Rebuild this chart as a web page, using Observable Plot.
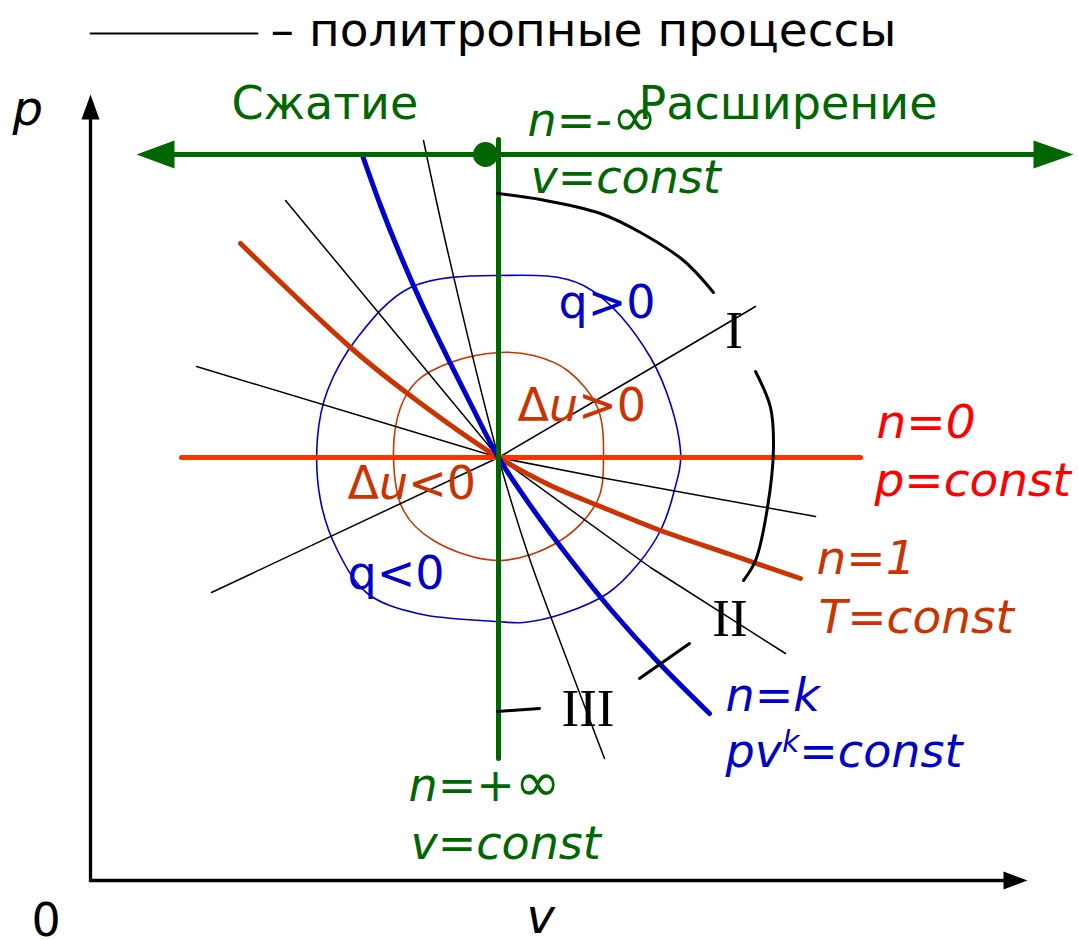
<!DOCTYPE html>
<html><head><meta charset="utf-8">
<script src="https://cdn.jsdelivr.net/npm/d3@7"></script>
<script src="https://cdn.jsdelivr.net/npm/@observablehq/plot@0.6"></script>
<style>html,body{margin:0;padding:0;background:#fff;} #chart svg{display:block;}</style>
</head><body><div id="chart"></div>
<script>
// Diagram units: v (volume) and p (pressure), origin at the axes corner "0".
const statePoint = [[408, 423]];
const isochore = [[408, 741], [408, 122]];                 // n = ±∞
const isobar = [[91, 423], [770, 423]];                    // n = 0
const isotherm = [[150,637],[260,533],[317,487],[408,423],[460,395],[510,374],[570,350],[640,326],[710,302]]; // n = 1
const adiabat = [[272,725],[290,675],[310,625],[332,575],[356,525],[381,475],[408,423],[442,372],[480,321],[522,269],[568,218],[619,167]];  // n = k
const polytropeA = [[121,288],[408,423],[560,512],[665,574]];
const polytropeB = [[106,514],[408,423],[510,403],[725,364]];
const polytropeC = [[195,680],[408,423],[560,313],[695,227]];
const polytropeD = [[333,740],[357,630],[408,423],[438,325],[473,230],[514,122]];
const heatLoop = [[407,605],[493,595],[560,523],[590,430],[583,387],[570,350],[548,317],[517,287],[473,267],[433,258],[407,259],[327,267],[277,287],[247,330],[230,380],[227,443],[237,490],[267,543],[320,593]];
const energyLoop = [[408,528],[443,525],[477,510],[507,473],[513,423],[507,380],[470,340],[408,320],[343,340],[313,370],[303,423],[310,473],[327,500],[360,518]];
const arcI = [[407,687],[450,681],[510,667],[550,648],[593,620],[623,588]];
const arcII = [[665,509],[680,473],[683,433],[677,373],[665,320],[653,300]];
const arcIII = [[549,202],[599,237]];
const tickIII = [[407,169],[449,172]];
const directionLine = [[84,726],[943,726]];
const arrowLeft = [[46,726],[84,740],[84,712]];
const arrowRight = [[983,726],[943,740],[943,712]];
const startDot = [[395,726]];
const pAxis = [[0,0],[0,761]];
const pArrow = [[0,786],[-9,761],[9,761]];
const vAxis = [[0,0],[913,0]];
const vArrow = [[937,0],[913,9],[913,-9]];
const legendLine = [[0,847],[167,847]];

const legendLabel = [{text:"– политропные процессы", v:180, p:835}];
const axisLabels = [{text:"p", v:-78, p:756}, {text:"v", v:436, p:-52}];
const originLabel = [{text:"0", v:-59, p:-55}];
const directionLabels = [{text:"Сжатие", v:141, p:762}, {text:"Расширение", v:548, p:762}];
const isochoreLabels = [{text:"n=-∞", v:437, p:745}, {text:"v=const", v:440, p:688}, {text:"n=+∞", v:318, p:80}, {text:"v=const", v:320, p:22}];
const isobarLabels = [{text:"n=0", v:786, p:443}, {text:"p=const", v:784, p:385}];
const isothermLabels = [{text:"n=1", v:726, p:307}, {text:"T=const", v:728, p:248}];
const adiabatLabels = [{text:"n=k", v:635, p:170}, {text:"pv^k=const", v:635, p:114}];
const heatLabels = [{text:"q>0", v:468, p:563}, {text:"q<0", v:257, p:292}];
const energyLabels = [{text:"Δu>0", v:427, p:460}, {text:"Δu<0", v:257, p:382}];
const romanLabels = [{text:"I", v:643.5, p:533}, {text:"II", v:639.5, p:245}, {text:"III", v:497.5, p:155}];

const GREEN = "#006600", BLUE = "#0000cc", BROWN = "#cc3300", RED = "#ff3300";
const SANS = "DejaVu Sans", SERIF = "Liberation Serif";

const ln = (data, o) => Plot.line(data, {x: d => d[0], y: d => d[1], ...o});
const tri = (data, fill) => Plot.line(data, {x: d => d[0], y: d => d[1], fill, stroke: "none", curve: "linear-closed"});
const txt = (data, o) => Plot.text(data, {x: "v", y: "p", text: "text", textAnchor: "start", lineAnchor: "bottom", fontFamily: SANS, ...o});

const chart = Plot.plot({
  width: 1079, height: 940, margin: 0,
  x: {domain: [-90, 989], axis: null},
  y: {domain: [-60, 880], axis: null},
  style: {fontFamily: SANS, background: "#fff"},
  marks: [
    ln(heatLoop, {stroke: BLUE, strokeWidth: 1.6, curve: "catmull-rom-closed"}),
    ln(energyLoop, {stroke: BROWN, strokeWidth: 1.6, curve: "catmull-rom-closed"}),
    ln(polytropeA, {stroke: "#000", strokeWidth: 1.5}),
    ln(polytropeB, {stroke: "#000", strokeWidth: 1.5}),
    ln(polytropeC, {stroke: "#000", strokeWidth: 1.5}),
    ln(polytropeD, {stroke: "#000", strokeWidth: 1.5, curve: "catmull-rom"}),
    ln(isobar, {stroke: RED, strokeWidth: 5}),
    ln(isotherm, {stroke: BROWN, strokeWidth: 5, curve: "catmull-rom"}),
    ln(adiabat, {stroke: BLUE, strokeWidth: 5, curve: "catmull-rom"}),
    ln(isochore, {stroke: GREEN, strokeWidth: 5}),
    ln(directionLine, {stroke: GREEN, strokeWidth: 5}),
    tri(arrowLeft, GREEN),
    tri(arrowRight, GREEN),
    Plot.dot(startDot, {x: d => d[0], y: d => d[1], r: 12.5, fill: GREEN}),
    ln(arcI, {stroke: "#000", strokeWidth: 3, curve: "catmull-rom"}),
    ln(arcII, {stroke: "#000", strokeWidth: 3, curve: "catmull-rom"}),
    ln(arcIII, {stroke: "#000", strokeWidth: 3}),
    ln(tickIII, {stroke: "#000", strokeWidth: 3}),
    ln(pAxis, {stroke: "#000", strokeWidth: 3.3}),
    tri(pArrow, "#000"),
    ln(vAxis, {stroke: "#000", strokeWidth: 3.3}),
    tri(vArrow, "#000"),
    ln(legendLine, {stroke: "#000", strokeWidth: 1.8}),
    txt(legendLabel, {fontSize: 47, fill: "#000"}),
    txt(axisLabels, {fontSize: 48, fill: "#000", fontStyle: "italic"}),
    txt(originLabel, {fontSize: 46, fill: "#000"}),
    txt(directionLabels, {fontSize: 46, fill: GREEN}),
    txt(isochoreLabels, {fontSize: 46, fill: GREEN, fontStyle: "italic"}),
    txt(isobarLabels, {fontSize: 47, fill: "#ff0000", fontStyle: "italic"}),
    txt(isothermLabels, {fontSize: 47, fill: BROWN, fontStyle: "italic"}),
    txt(adiabatLabels, {fontSize: 46, fill: BLUE, fontStyle: "italic"}),
    txt(heatLabels, {fontSize: 46, fill: BLUE}),
    txt(energyLabels, {fontSize: 46, fill: BROWN}),
    txt(romanLabels, {fontSize: 53, fill: "#000", fontFamily: SERIF, textAnchor: "middle"})
  ]
});

// rich text: italic u in Δu, superscript k in pv^k, larger ∞
const NS = "http://www.w3.org/2000/svg";
chart.querySelectorAll("text").forEach(t => {
  const s = t.textContent;
  const span = (str, attrs) => { const e = document.createElementNS(NS, "tspan"); e.textContent = str; for (const k in attrs) e.setAttribute(k, attrs[k]); t.appendChild(e); };
  if (s.startsWith("Δu")) {
    t.textContent = "";
    span("Δ", {});
    span("u", {"font-style": "italic"});
    span(s.slice(2), {});
  } else if (s.includes("^")) {
    const [a, rest] = s.split("^");
    t.textContent = "";
    span(a, {});
    span(rest[0], {dy: "-0.5em", "font-size": "30"});
    span(rest.slice(1), {dy: "0.33em"});
  } else if (s.endsWith("∞")) {
    t.textContent = "";
    span(s.slice(0, -1), {});
    span("∞", {"font-size": "55"});
  }
});
document.getElementById("chart").appendChild(chart);
</script>
</body></html>
